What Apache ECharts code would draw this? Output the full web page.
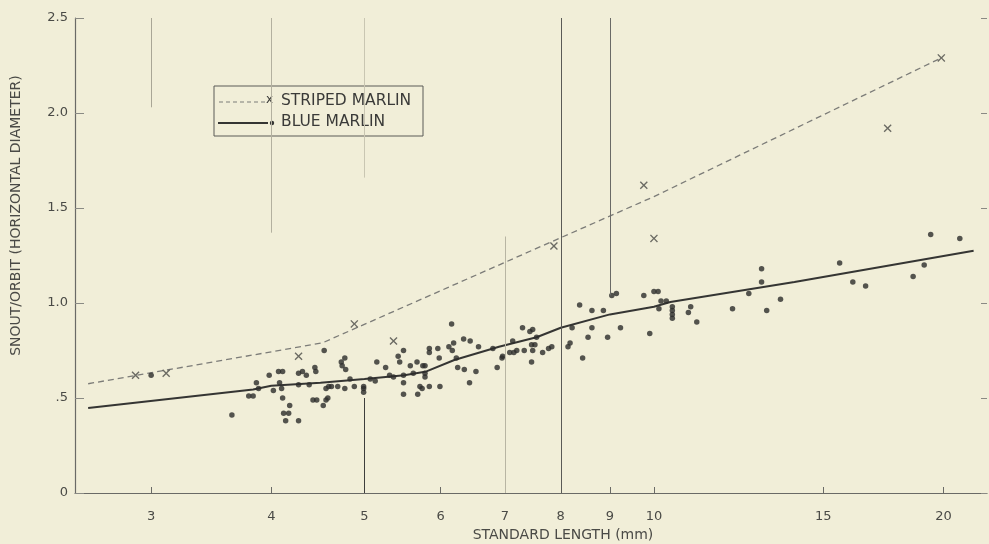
<!DOCTYPE html>
<html>
<head>
<meta charset="utf-8">
<script src="https://cdn.jsdelivr.net/npm/echarts@6/dist/echarts.min.js"></script>
<style>
html,body{margin:0;padding:0;background:#f1eed8;}
#c{width:989px;height:544px;}
</style>
</head>
<body>
<div id="c"></div>
<script>
// ---- data ----
const xTickValues = [3, 4, 5, 6, 7, 8, 9, 10, 15, 20];
const yTickValues = [0, 0.5, 1.0, 1.5, 2.0, 2.5];
const yTickLabels = ['0', '.5', '1.0', '1.5', '2.0', '2.5'];

// Striped marlin fitted curve (dashed)
const stripedCurveLen = [2.58, 4.52, 10.0, 19.9];
const stripedCurveRatio = [0.575, 0.79, 1.56, 2.29];

// Blue marlin fitted curve (solid)
const blueCurveLen = [2.58, 3.83, 4.0, 4.5, 5.0, 5.5, 5.8, 6.2, 6.9, 7.55, 8.0, 9.0, 10.0, 10.4, 14.0, 21.5];
const blueCurveRatio = [0.447, 0.545, 0.565, 0.58, 0.60, 0.62, 0.64, 0.70, 0.77, 0.82, 0.87, 0.94, 0.98, 1.005, 1.11, 1.275];

// Striped marlin specimens (x)
const stripedLen = [2.89, 3.11, 4.27, 4.88, 5.36, 7.87, 9.76, 10.0, 17.5, 19.9];
const stripedRatio = [0.62, 0.63, 0.72, 0.89, 0.80, 1.30, 1.62, 1.34, 1.92, 2.29];

// Blue marlin specimens (dots)
const blueLen = [
  3.0, 3.64, 3.79, 3.83, 3.86, 3.88, 3.98, 4.02, 4.07, 4.11, 4.08, 4.10, 4.11, 4.18, 4.12, 4.17, 4.14, 4.27,
  4.27, 4.31, 4.35, 4.44, 4.45, 4.27, 4.38, 4.42, 4.46, 4.53, 4.54, 4.56, 4.56,
  4.77, 4.73, 4.74, 4.78, 4.59, 4.62, 4.69, 4.77, 4.58, 4.88, 4.83, 4.99, 4.99, 4.99,
  5.07, 5.13, 5.15, 5.26, 5.31, 5.36, 5.42, 5.44, 5.49, 5.49, 5.49, 5.49, 5.58, 5.67, 5.75, 5.62, 5.74, 5.68,
  6.16, 5.84, 5.84, 5.96, 6.12, 6.17, 6.19, 6.34, 6.44, 6.57, 6.80, 5.78, 5.98, 6.23, 6.25, 6.35, 6.53, 6.43,
  6.87, 6.95, 5.78, 5.78, 5.71, 5.84, 5.99,
  7.13, 7.30, 7.43, 7.48, 7.55, 7.46, 7.52, 7.08, 7.15, 7.20, 7.33, 7.48, 7.66, 7.77, 7.83, 6.96, 7.46,
  8.18, 8.14, 8.22, 8.37, 8.62, 8.86, 8.54, 8.62, 8.43, 8.95, 9.23, 9.04, 9.14, 9.76, 9.90,
  10.0, 10.1, 10.12, 10.17, 10.30, 10.45, 10.45, 10.45, 10.45, 10.92, 10.86, 11.08,
  12.07, 12.55, 12.94, 12.94, 13.1, 13.54, 15.6, 16.1, 16.6, 18.6, 19.1, 19.4, 20.8
];
const blueRatio = [
  0.62, 0.41, 0.51, 0.51, 0.58, 0.55, 0.62, 0.54, 0.64, 0.64, 0.58, 0.55, 0.50, 0.46, 0.42, 0.42, 0.38, 0.38,
  0.63, 0.64, 0.62, 0.66, 0.64, 0.57, 0.57, 0.49, 0.49, 0.46, 0.75, 0.49, 0.55,
  0.71, 0.69, 0.67, 0.65, 0.56, 0.56, 0.56, 0.55, 0.50, 0.56, 0.60, 0.56, 0.55, 0.53,
  0.60, 0.59, 0.69, 0.66, 0.62, 0.61, 0.72, 0.69, 0.75, 0.62, 0.58, 0.52, 0.67, 0.69, 0.67, 0.63, 0.55, 0.52,
  0.89, 0.76, 0.74, 0.76, 0.77, 0.75, 0.79, 0.81, 0.80, 0.77, 0.76, 0.67, 0.71, 0.71, 0.66, 0.65, 0.64, 0.58,
  0.66, 0.71, 0.63, 0.61, 0.56, 0.56, 0.56,
  0.80, 0.87, 0.85, 0.86, 0.82, 0.78, 0.78, 0.74, 0.74, 0.75, 0.75, 0.75, 0.74, 0.76, 0.77, 0.72, 0.69,
  0.79, 0.77, 0.87, 0.99, 0.96, 0.96, 0.82, 0.87, 0.71, 0.82, 0.87, 1.04, 1.05, 1.04, 0.84,
  1.06, 1.06, 0.97, 1.01, 1.01, 0.98, 0.96, 0.94, 0.92, 0.98, 0.95, 0.90,
  0.97, 1.05, 1.18, 1.11, 0.96, 1.02, 1.21, 1.11, 1.09, 1.14, 1.20, 1.36, 1.34
];

// faint vertical scan lines in the original figure: [length, from ratio, to ratio]
const scanLineLen = [8, 9, 5, 5, 7, 3, 4];
const scanLineFrom = [0, 1.04, 0, 1.66, 0, 2.03, 1.37];
const scanLineTo = [2.5, 2.5, 0.5, 2.5, 1.35, 2.5, 2.5];
const scanLineColor = ['#5a5a56', '#6a6a66', '#3e3e3c', '#c9c6b2', '#b8b5a3', '#a9a696', '#b3b09f'];

const zip = (a, b) => a.map((v, i) => [v, b[i]]);

const FONT = 'DejaVu Sans';
const TXT = '#4a4a46';
const XPATH = 'path://M0,1.2L1.2,0L5,3.8L8.8,0L10,1.2L6.2,5L10,8.8L8.8,10L5,6.2L1.2,10L0,8.8L3.8,5Z';

const chart = echarts.init(document.getElementById('c'), null, {renderer: 'canvas'});

const scanMarks = scanLineLen.map((x, i) => [
  {coord: [x, scanLineFrom[i]], lineStyle: {color: scanLineColor[i], width: 1, type: 'solid'}},
  {coord: [x, scanLineTo[i]]}
]);

chart.setOption({
  backgroundColor: '#f1eed8',
  animation: false,
  grid: {left: 75, right: 2, top: 18, bottom: 51, containLabel: false, outerBoundsMode: 'none'},
  xAxis: {
    type: 'log',
    logBase: 10,
    min: 2.5,
    max: 22.2,
    name: 'STANDARD LENGTH (mm)',
    nameLocation: 'middle',
    nameGap: 34,
    nameTextStyle: {fontFamily: FONT, fontSize: 14, color: TXT, padding: [0, 0, 0, 64]},
    axisLine: {show: true, lineStyle: {color: '#6a6a66', width: 1.2}},
    axisTick: {show: true, inside: true, length: 6, customValues: xTickValues, lineStyle: {color: '#6a6a66'}},
    axisLabel: {customValues: xTickValues, fontFamily: FONT, fontSize: 13, color: TXT, margin: 17,
      formatter: v => String(Math.round(v))},
    splitLine: {show: false},
    minorTick: {show: false},
    minorSplitLine: {show: false}
  },
  yAxis: [{
    type: 'value',
    min: 0,
    max: 2.5,
    interval: 0.5,
    name: 'SNOUT/ORBIT (HORIZONTAL DIAMETER)',
    nameLocation: 'middle',
    nameGap: 52,
    nameRotate: 90,
    nameTextStyle: {fontFamily: FONT, fontSize: 14, color: TXT, padding: [0, 0, 0, 80]},
    axisLine: {show: true, lineStyle: {color: '#6a6a66', width: 1.2}},
    axisTick: {show: true, inside: true, length: 9, lineStyle: {color: '#8a8a84'}},
    axisLabel: {fontFamily: FONT, fontSize: 13, color: TXT, margin: 7,
      formatter: v => yTickLabels[yTickValues.findIndex(t => Math.abs(t - v) < 1e-6)] || ''},
    splitLine: {show: false}
  }, {
    type: 'value',
    position: 'right',
    min: 0,
    max: 2.5,
    interval: 0.5,
    axisLine: {show: false},
    axisTick: {show: true, inside: true, length: 6, lineStyle: {color: '#8a8a84'}},
    axisLabel: {show: false},
    splitLine: {show: false}
  }],
  series: [
    {
      type: 'line', name: 'scan', data: [], silent: true,
      markLine: {symbol: 'none', silent: true, label: {show: false}, data: scanMarks}
    },
    {
      type: 'line', name: 'STRIPED MARLIN', data: zip(stripedCurveLen, stripedCurveRatio),
      showSymbol: false, symbol: 'none',
      lineStyle: {color: '#7c7c78', width: 1.3, type: [6, 4]}, z: 3
    },
    {
      type: 'line', name: 'BLUE MARLIN', data: zip(blueCurveLen, blueCurveRatio),
      showSymbol: false, symbol: 'none',
      lineStyle: {color: '#353533', width: 2}, z: 3
    },
    {
      type: 'scatter', name: 'STRIPED MARLIN pts', data: zip(stripedLen, stripedRatio),
      symbol: XPATH, symbolSize: 8, itemStyle: {color: '#4a4a46'}, z: 4
    },
    {
      type: 'scatter', name: 'BLUE MARLIN pts', data: zip(blueLen, blueRatio),
      symbol: 'circle', symbolSize: 5.5, itemStyle: {color: '#2c2c2a'}, z: 4
    }
  ],
  graphic: [
    {type: 'rect', shape: {x: 214, y: 86, width: 209, height: 50},
      style: {fill: 'none', stroke: '#5a5a56', lineWidth: 1}},
    {type: 'line', shape: {x1: 219, y1: 102, x2: 265, y2: 102},
      style: {stroke: '#7c7c78', lineWidth: 1.2, lineDash: [4, 3]}},
    {type: 'text', left: 266, top: 94, style: {text: 'x', font: '12px ' + FONT, fill: '#3a3a38'}},
    {type: 'text', left: 281, top: 93, style: {text: 'STRIPED MARLIN', font: '15.5px ' + FONT, fill: '#3a3a38'}},
    {type: 'line', shape: {x1: 218, y1: 123, x2: 268, y2: 123},
      style: {stroke: '#353533', lineWidth: 2}},
    {type: 'circle', shape: {cx: 272, cy: 123, r: 2.2}, style: {fill: '#353533'}},
    {type: 'text', left: 281, top: 114, style: {text: 'BLUE MARLIN', font: '15.5px ' + FONT, fill: '#3a3a38'}}
  ]
});
</script>
</body>
</html>
